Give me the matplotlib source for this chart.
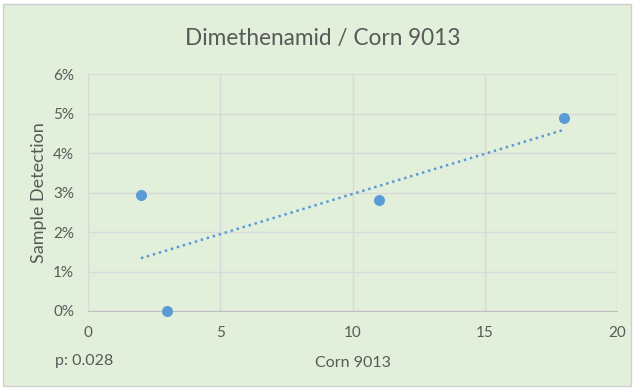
import numpy as np
import matplotlib.pyplot as plt
from matplotlib.patches import Rectangle
from matplotlib.ticker import PercentFormatter

corn_9013 = [2, 3, 11, 18]
detection = [0.0293, 0.0, 0.0282, 0.0488]
x_ticks = [0, 5, 10, 15, 20]
y_ticks = [0, 0.01, 0.02, 0.03, 0.04, 0.05, 0.06]

green = '#E2EFDA'
blue = '#5B9BD5'
grey_text = '#595959'
grid_col = '#D9D9D9'

plt.rcParams['font.family'] = ['Lato', 'DejaVu Sans']

fig = plt.figure(figsize=(6.34, 3.9), dpi=100)
fig.patch.set_facecolor('white')
fig.patches.append(Rectangle((3 / 634, 4 / 390), 628 / 634, 382 / 390, transform=fig.transFigure,
                             facecolor=green, edgecolor='#D0D0D0', linewidth=1, zorder=-10))

ax = fig.add_axes([88 / 634, 1 - 311 / 390, 529 / 634, 237 / 390])
ax.set_facecolor(green)

# linear trend line over the observed x range
slope, intercept = np.polyfit(corn_9013, detection, 1)
xs = np.array([min(corn_9013), max(corn_9013)])
ax.plot(xs, slope * xs + intercept, linestyle=(0, (1, 1.5)), color=blue, linewidth=1.8, zorder=2)
ax.scatter(corn_9013, detection, s=48, color=blue, zorder=3, clip_on=False)

ax.set_xlim(0, 20)
ax.set_ylim(0, 0.06)
ax.set_xticks(x_ticks)
ax.set_yticks(y_ticks)
ax.yaxis.set_major_formatter(PercentFormatter(1.0, decimals=0))
ax.grid(True, color=grid_col, linewidth=1)
ax.set_axisbelow(True)
for side in ['top', 'right']:
    ax.spines[side].set_visible(False)
ax.spines['left'].set_color(grid_col)
ax.spines['bottom'].set_color('#BFBFBF')
ax.tick_params(length=0, colors=grey_text, labelsize=11)
ax.tick_params(axis='x', pad=11)
ax.tick_params(axis='y', pad=10)

ax.set_xlabel('Corn 9013', color=grey_text, fontsize=11.5, labelpad=11)
ax.set_ylabel('Sample Detection', color=grey_text, fontsize=13, va='center')
ax.yaxis.set_label_coords(-49 / 529, 0.5)
# title sits centred on the whole chart rather than the plot area
ax.set_title('Dimethenamid / Corn 9013', color=grey_text, fontsize=16.3, pad=21, x=235 / 529)

fig.text(55 / 634, 1 - 361 / 390, 'p: 0.028', color=grey_text, fontsize=11.5, va='center')

fig.savefig('out.png', dpi=100, facecolor=fig.get_facecolor())
